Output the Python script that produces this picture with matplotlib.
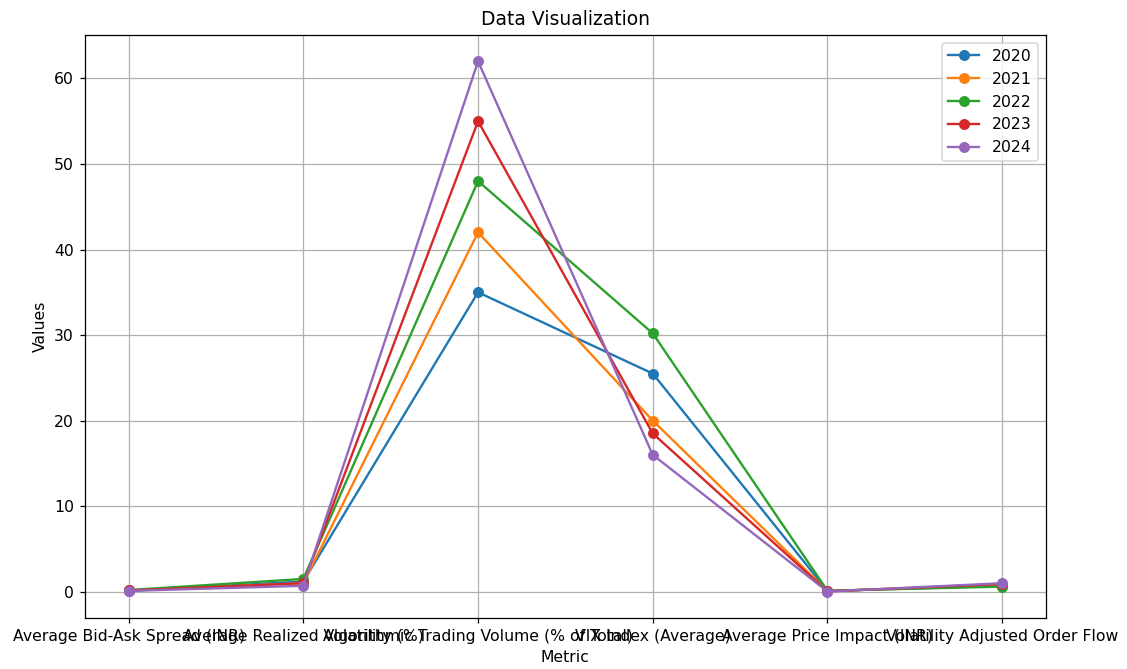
import numpy as np
import matplotlib
matplotlib.use('Agg')
import matplotlib.pyplot as plt

metrics = ['Average Bid-Ask Spread (INR)', 'Average Realized Volatility (%)',
           'Algorithmic Trading Volume (% of Total)', 'VIX Index (Average)',
           'Average Price Impact (INR)', 'Volatility Adjusted Order Flow']
years = ['2020', '2021', '2022', '2023', '2024']

v2020 = [0.10, 1.2, 35, 25.5, 0.10, 0.7]
v2021 = [0.15, 1.0, 42, 20.0, 0.08, 0.8]
v2022 = [0.20, 1.5, 48, 30.2, 0.12, 0.6]
v2023 = [0.15, 1.0, 55, 18.5, 0.05, 0.9]
v2024 = [0.10, 0.7, 62, 16.0, 0.03, 1.0]
series = [v2020, v2021, v2022, v2023, v2024]

# original looks like a 10x6 figure scaled up to 1127x669
fig = plt.figure(figsize=(10, 669 / 112.7), dpi=112.7)
ax = fig.add_subplot(111)
fig.subplots_adjust(left=0.0754, right=0.928, top=0.948, bottom=0.0762)

for yr, vals in zip(years, series):
    ax.plot(metrics, vals, marker='o', label=yr)

ax.set_title('Data Visualization')
ax.set_xlabel('Metric')
ax.set_ylabel('Values')
ax.legend(loc='upper right')
ax.grid(True)

fig.savefig('out.png', dpi=112.7)
